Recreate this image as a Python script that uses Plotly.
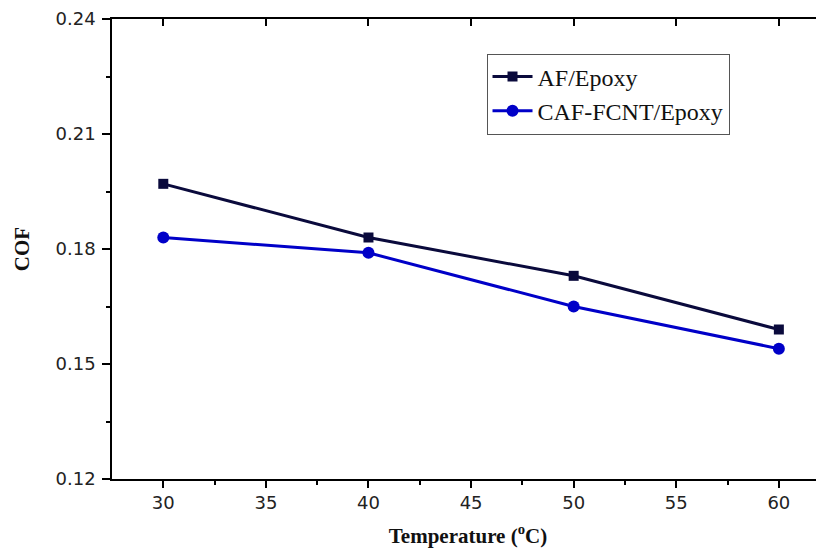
import plotly.graph_objects as go

temperature = [30, 40, 50, 60]
af_epoxy = [0.197, 0.183, 0.173, 0.159]
caf_fcnt_epoxy = [0.183, 0.179, 0.165, 0.154]
series_names = ["AF/Epoxy", "CAF-FCNT/Epoxy"]
x_ticks = [30, 35, 40, 45, 50, 55, 60]
y_ticks = [0.12, 0.15, 0.18, 0.21, 0.24]

AF_COLOR = "#0a0a3c"
CAF_COLOR = "#0000c8"
TICK_FONT = dict(family="DejaVu Sans, Arial, sans-serif", size=18, color="#222222")
SERIF = "Liberation Serif, Times New Roman, serif"

fig = go.Figure()
fig.add_trace(go.Scatter(
    x=temperature, y=af_epoxy, name=series_names[0], mode="lines+markers",
    line=dict(color=AF_COLOR, width=3),
    marker=dict(symbol="square", size=10, color=AF_COLOR),
))
fig.add_trace(go.Scatter(
    x=temperature, y=caf_fcnt_epoxy, name=series_names[1], mode="lines+markers",
    line=dict(color=CAF_COLOR, width=3),
    marker=dict(symbol="circle", size=12, color=CAF_COLOR),
))
# dummy trace to activate mirror axes
fig.add_trace(go.Scatter(x=[None], y=[None], xaxis="x2", yaxis="y2",
                         showlegend=False, hoverinfo="skip"))

xr = [27.5, 62.2]
yr = [0.12, 0.24]

# page body has an 8px default margin; figure sized to fit the 824x551 window
fig.update_layout(
    width=816, height=543,
    margin=dict(l=104, r=0, t=11, b=72),
    paper_bgcolor="white", plot_bgcolor="white",
    showlegend=True,
    legend=dict(
        x=0.526, y=0.925, xanchor="left", yanchor="top",
        bgcolor="white", bordercolor="#555555", borderwidth=1,
        font=dict(family=SERIF, size=24, color="#111111"),
        tracegroupgap=0, itemwidth=40,
    ),
    xaxis=dict(
        range=xr, tickvals=x_ticks, ticks="outside", ticklen=7, tickwidth=1.5,
        tickcolor="black", showline=True, linecolor="black", linewidth=1.5,
        showgrid=False, zeroline=False, tickfont=TICK_FONT, automargin=False,
        minor=dict(tickvals=[32.5, 37.5, 42.5, 47.5, 52.5, 57.5], ticks="outside",
                   ticklen=4, tickwidth=1.5, tickcolor="black"),
        title=dict(text="Temperature (<sup>o</sup>C)",
                   font=dict(family=SERIF, size=21, color="#111111", weight="bold"),
                   standoff=16),
    ),
    yaxis=dict(
        range=yr, tickvals=y_ticks, tickformat=".2f", ticks="outside", ticklen=8,
        tickwidth=1.5, tickcolor="black", showline=True, linecolor="black",
        linewidth=1.5, showgrid=False, zeroline=False, tickfont=TICK_FONT,
        automargin=False, ticklabelstandoff=3,
        minor=dict(tickvals=[0.135, 0.165, 0.195, 0.225], ticks="outside",
                   ticklen=4, tickwidth=1.5, tickcolor="black"),
        title=dict(text="COF",
                   font=dict(family=SERIF, size=21, color="#111111", weight="bold"),
                   standoff=20),
    ),
    xaxis2=dict(
        range=xr, overlaying="x", side="top", anchor="y2", tickvals=x_ticks,
        ticks="inside", ticklen=7, tickwidth=1.5, tickcolor="black",
        showticklabels=False, showline=True, linecolor="black", linewidth=1.5,
        showgrid=False, zeroline=False, automargin=False,
    ),
    yaxis2=dict(
        range=yr, overlaying="y", side="right", anchor="x2", tickvals=y_ticks,
        ticks="inside", ticklen=6, tickwidth=1.5, tickcolor="black",
        showticklabels=False, showline=False, showgrid=False, zeroline=False,
        automargin=False,
    ),
)

fig.write_html("out.html")
